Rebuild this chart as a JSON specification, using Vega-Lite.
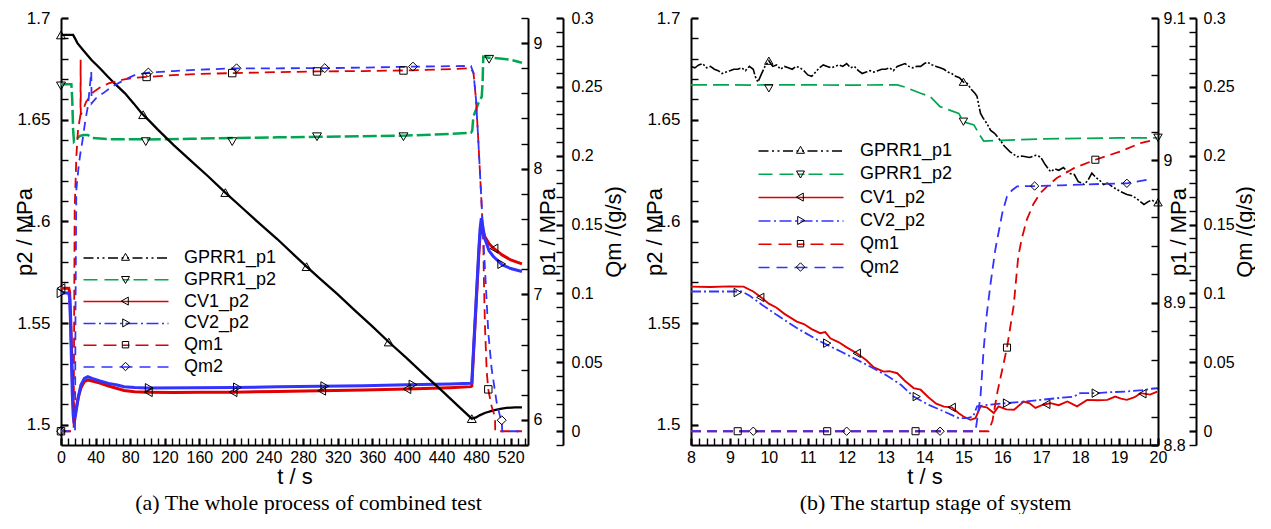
{
"$schema":"https://vega.github.io/schema/vega-lite/v6.json",
"background":"white",
"padding":{"left":13,"top":9,"right":0,"bottom":0},
"spacing":19,
"config":{"view":{"stroke":null},"font":"Liberation Sans",
"axis":{"grid":false,"domainColor":"black","domainWidth":2,"tickColor":"black","tickSize":-7,"labelColor":"black","labelFont":"Liberation Sans","labelFontSize":16,"titleFont":"Liberation Sans","titleFontSize":22,"titleFontWeight":"normal","titleColor":"black","labelFlush":false,"labelOverlap":false}},
"datasets":{
"a_lines":[
{"series":"GPRR1_p1","t":0,"v":9.065},{"series":"GPRR1_p1","t":14,"v":9.065},{"series":"GPRR1_p1","t":16,"v":9.04},{"series":"GPRR1_p1","t":19,"v":9.0},{"series":"GPRR1_p1","t":25,"v":8.95},{"series":"GPRR1_p1","t":35,"v":8.867},{"series":"GPRR1_p1","t":45,"v":8.8},{"series":"GPRR1_p1","t":54,"v":8.734},{"series":"GPRR1_p1","t":64,"v":8.665},{"series":"GPRR1_p1","t":74,"v":8.6},{"series":"GPRR1_p1","t":84,"v":8.52},{"series":"GPRR1_p1","t":93,"v":8.443},{"series":"GPRR1_p1","t":103,"v":8.375},{"series":"GPRR1_p1","t":112,"v":8.311},{"series":"GPRR1_p1","t":130,"v":8.19},{"series":"GPRR1_p1","t":150,"v":8.065},{"series":"GPRR1_p1","t":170,"v":7.94},{"series":"GPRR1_p1","t":190,"v":7.81},{"series":"GPRR1_p1","t":210,"v":7.685},{"series":"GPRR1_p1","t":230,"v":7.56},{"series":"GPRR1_p1","t":250,"v":7.44},{"series":"GPRR1_p1","t":270,"v":7.31},{"series":"GPRR1_p1","t":284,"v":7.22},{"series":"GPRR1_p1","t":300,"v":7.12},{"series":"GPRR1_p1","t":320,"v":7.0},{"series":"GPRR1_p1","t":340,"v":6.87},{"series":"GPRR1_p1","t":360,"v":6.745},{"series":"GPRR1_p1","t":379,"v":6.62},{"series":"GPRR1_p1","t":400,"v":6.49},{"series":"GPRR1_p1","t":420,"v":6.36},{"series":"GPRR1_p1","t":440,"v":6.235},{"series":"GPRR1_p1","t":460,"v":6.105},{"series":"GPRR1_p1","t":475,"v":6.01},{"series":"GPRR1_p1","t":480,"v":6.02},{"series":"GPRR1_p1","t":484,"v":6.036},{"series":"GPRR1_p1","t":490,"v":6.055},{"series":"GPRR1_p1","t":500,"v":6.076},{"series":"GPRR1_p1","t":508,"v":6.088},{"series":"GPRR1_p1","t":515,"v":6.095},{"series":"GPRR1_p1","t":525,"v":6.1},{"series":"GPRR1_p1","t":533,"v":6.1},
{"series":"GPRR1_p2","t":0,"v":1.6674},{"series":"GPRR1_p2","t":12,"v":1.6674},{"series":"GPRR1_p2","t":13,"v":1.66},{"series":"GPRR1_p2","t":14,"v":1.645},{"series":"GPRR1_p2","t":15,"v":1.6392},{"series":"GPRR1_p2","t":18,"v":1.6405},{"series":"GPRR1_p2","t":22,"v":1.642},{"series":"GPRR1_p2","t":26,"v":1.6425},{"series":"GPRR1_p2","t":31,"v":1.6425},{"series":"GPRR1_p2","t":36,"v":1.641},{"series":"GPRR1_p2","t":54,"v":1.6404},{"series":"GPRR1_p2","t":100,"v":1.6403},{"series":"GPRR1_p2","t":150,"v":1.6406},{"series":"GPRR1_p2","t":200,"v":1.641},{"series":"GPRR1_p2","t":250,"v":1.6413},{"series":"GPRR1_p2","t":300,"v":1.6416},{"series":"GPRR1_p2","t":350,"v":1.6419},{"series":"GPRR1_p2","t":400,"v":1.6422},{"series":"GPRR1_p2","t":450,"v":1.643},{"series":"GPRR1_p2","t":474,"v":1.6436},{"series":"GPRR1_p2","t":475.5,"v":1.6445},{"series":"GPRR1_p2","t":476.8,"v":1.6515},{"series":"GPRR1_p2","t":480,"v":1.655},{"series":"GPRR1_p2","t":482.5,"v":1.658},{"series":"GPRR1_p2","t":486.5,"v":1.6613},{"series":"GPRR1_p2","t":487.5,"v":1.668},{"series":"GPRR1_p2","t":488.3,"v":1.681},{"series":"GPRR1_p2","t":495,"v":1.6805},{"series":"GPRR1_p2","t":510,"v":1.68},{"series":"GPRR1_p2","t":520,"v":1.6795},{"series":"GPRR1_p2","t":533,"v":1.678},
{"series":"CV1_p2","t":0,"v":1.5671},{"series":"CV1_p2","t":9,"v":1.5671},{"series":"CV1_p2","t":10,"v":1.565},{"series":"CV1_p2","t":11,"v":1.555},{"series":"CV1_p2","t":12,"v":1.54},{"series":"CV1_p2","t":13,"v":1.525},{"series":"CV1_p2","t":14,"v":1.511},{"series":"CV1_p2","t":15,"v":1.5035},{"series":"CV1_p2","t":16,"v":1.5045},{"series":"CV1_p2","t":18,"v":1.509},{"series":"CV1_p2","t":20,"v":1.5135},{"series":"CV1_p2","t":23,"v":1.518},{"series":"CV1_p2","t":27,"v":1.5212},{"series":"CV1_p2","t":31,"v":1.522},{"series":"CV1_p2","t":36,"v":1.5215},{"series":"CV1_p2","t":45,"v":1.5205},{"series":"CV1_p2","t":55,"v":1.519},{"series":"CV1_p2","t":65,"v":1.5178},{"series":"CV1_p2","t":73,"v":1.5168},{"series":"CV1_p2","t":85,"v":1.5162},{"series":"CV1_p2","t":100,"v":1.516},{"series":"CV1_p2","t":130,"v":1.5158},{"series":"CV1_p2","t":160,"v":1.5159},{"series":"CV1_p2","t":200,"v":1.516},{"series":"CV1_p2","t":250,"v":1.5163},{"series":"CV1_p2","t":300,"v":1.5167},{"series":"CV1_p2","t":350,"v":1.517},{"series":"CV1_p2","t":400,"v":1.5175},{"series":"CV1_p2","t":450,"v":1.5182},{"series":"CV1_p2","t":474,"v":1.5187},{"series":"CV1_p2","t":475,"v":1.519},{"series":"CV1_p2","t":477,"v":1.535},{"series":"CV1_p2","t":479,"v":1.551},{"series":"CV1_p2","t":481,"v":1.567},{"series":"CV1_p2","t":483,"v":1.583},{"series":"CV1_p2","t":484.5,"v":1.593},{"series":"CV1_p2","t":486.5,"v":1.597},{"series":"CV1_p2","t":488,"v":1.595},{"series":"CV1_p2","t":490,"v":1.5925},{"series":"CV1_p2","t":495,"v":1.589},{"series":"CV1_p2","t":500,"v":1.5868},{"series":"CV1_p2","t":510,"v":1.5835},{"series":"CV1_p2","t":520,"v":1.581},{"series":"CV1_p2","t":533,"v":1.5791},
{"series":"CV2_p2","t":0,"v":1.5647},{"series":"CV2_p2","t":9,"v":1.5647},{"series":"CV2_p2","t":10,"v":1.562},{"series":"CV2_p2","t":11,"v":1.55},{"series":"CV2_p2","t":12,"v":1.533},{"series":"CV2_p2","t":13,"v":1.516},{"series":"CV2_p2","t":14,"v":1.505},{"series":"CV2_p2","t":15,"v":1.5007},{"series":"CV2_p2","t":16,"v":1.5025},{"series":"CV2_p2","t":18,"v":1.508},{"series":"CV2_p2","t":20,"v":1.5135},{"series":"CV2_p2","t":23,"v":1.5195},{"series":"CV2_p2","t":27,"v":1.5228},{"series":"CV2_p2","t":31,"v":1.5236},{"series":"CV2_p2","t":36,"v":1.5228},{"series":"CV2_p2","t":45,"v":1.5215},{"series":"CV2_p2","t":55,"v":1.5203},{"series":"CV2_p2","t":65,"v":1.5195},{"series":"CV2_p2","t":73,"v":1.5187},{"series":"CV2_p2","t":85,"v":1.5183},{"series":"CV2_p2","t":100,"v":1.518},{"series":"CV2_p2","t":150,"v":1.5182},{"series":"CV2_p2","t":200,"v":1.5183},{"series":"CV2_p2","t":250,"v":1.5186},{"series":"CV2_p2","t":300,"v":1.5189},{"series":"CV2_p2","t":350,"v":1.5192},{"series":"CV2_p2","t":400,"v":1.5196},{"series":"CV2_p2","t":450,"v":1.52},{"series":"CV2_p2","t":474,"v":1.5204},{"series":"CV2_p2","t":475,"v":1.5206},{"series":"CV2_p2","t":477,"v":1.537},{"series":"CV2_p2","t":479,"v":1.553},{"series":"CV2_p2","t":481,"v":1.569},{"series":"CV2_p2","t":483,"v":1.585},{"series":"CV2_p2","t":484.5,"v":1.596},{"series":"CV2_p2","t":486,"v":1.6015},{"series":"CV2_p2","t":488,"v":1.597},{"series":"CV2_p2","t":490,"v":1.5915},{"series":"CV2_p2","t":495,"v":1.5855},{"series":"CV2_p2","t":500,"v":1.5827},{"series":"CV2_p2","t":510,"v":1.5786},{"series":"CV2_p2","t":520,"v":1.5768},{"series":"CV2_p2","t":533,"v":1.5753},
{"series":"Qm1","t":0,"v":0},{"series":"Qm1","t":14.6,"v":0},{"series":"Qm1","t":15.2,"v":0.08},{"series":"Qm1","t":15.8,"v":0.161},{"series":"Qm1","t":17.8,"v":0.2},{"series":"Qm1","t":19.7,"v":0.219},{"series":"Qm1","t":22.5,"v":0.2297},{"series":"Qm1","t":22.7,"v":0.2696},{"series":"Qm1","t":22.9,"v":0.2297},{"series":"Qm1","t":26,"v":0.234},{"series":"Qm1","t":29,"v":0.239},{"series":"Qm1","t":33,"v":0.2425},{"series":"Qm1","t":37,"v":0.246},{"series":"Qm1","t":45,"v":0.2495},{"series":"Qm1","t":55,"v":0.2525},{"series":"Qm1","t":64,"v":0.254},{"series":"Qm1","t":73,"v":0.2555},{"series":"Qm1","t":85,"v":0.2565},{"series":"Qm1","t":99,"v":0.2572},{"series":"Qm1","t":130,"v":0.2585},{"series":"Qm1","t":160,"v":0.2594},{"series":"Qm1","t":198,"v":0.26},{"series":"Qm1","t":250,"v":0.2607},{"series":"Qm1","t":296,"v":0.2612},{"series":"Qm1","t":350,"v":0.2615},{"series":"Qm1","t":396,"v":0.2619},{"series":"Qm1","t":440,"v":0.2627},{"series":"Qm1","t":474,"v":0.2635},{"series":"Qm1","t":477,"v":0.26},{"series":"Qm1","t":480,"v":0.24},{"series":"Qm1","t":482.5,"v":0.2116},{"series":"Qm1","t":486.5,"v":0.163},{"series":"Qm1","t":488.3,"v":0.139},{"series":"Qm1","t":489,"v":0.11},{"series":"Qm1","t":490.3,"v":0.075},{"series":"Qm1","t":492.3,"v":0.043},{"series":"Qm1","t":494.1,"v":0.0304},{"series":"Qm1","t":496,"v":0.024},{"series":"Qm1","t":498,"v":0.018},{"series":"Qm1","t":501.9,"v":0.01},{"series":"Qm1","t":502.1,"v":0},{"series":"Qm1","t":533,"v":0},
{"series":"Qm2","t":0,"v":0},{"series":"Qm2","t":16.2,"v":0},{"series":"Qm2","t":16.8,"v":0.09},{"series":"Qm2","t":17.7,"v":0.175},{"series":"Qm2","t":20,"v":0.19},{"series":"Qm2","t":22,"v":0.2},{"series":"Qm2","t":25,"v":0.2116},{"series":"Qm2","t":28,"v":0.225},{"series":"Qm2","t":31,"v":0.2357},{"series":"Qm2","t":33,"v":0.248},{"series":"Qm2","t":35,"v":0.2611},{"series":"Qm2","t":35.4,"v":0.238},{"series":"Qm2","t":40,"v":0.2415},{"series":"Qm2","t":50,"v":0.246},{"series":"Qm2","t":60,"v":0.2505},{"series":"Qm2","t":73,"v":0.255},{"series":"Qm2","t":85,"v":0.2585},{"series":"Qm2","t":101,"v":0.2604},{"series":"Qm2","t":130,"v":0.2615},{"series":"Qm2","t":160,"v":0.2625},{"series":"Qm2","t":203,"v":0.2635},{"series":"Qm2","t":250,"v":0.2635},{"series":"Qm2","t":305,"v":0.2636},{"series":"Qm2","t":350,"v":0.264},{"series":"Qm2","t":407,"v":0.2647},{"series":"Qm2","t":450,"v":0.265},{"series":"Qm2","t":474,"v":0.2652},{"series":"Qm2","t":477,"v":0.26},{"series":"Qm2","t":480,"v":0.24},{"series":"Qm2","t":482.5,"v":0.2116},{"series":"Qm2","t":486.5,"v":0.163},{"series":"Qm2","t":488.3,"v":0.139},{"series":"Qm2","t":490.3,"v":0.1174},{"series":"Qm2","t":494.1,"v":0.0715},{"series":"Qm2","t":498,"v":0.045},{"series":"Qm2","t":503.8,"v":0.0208},{"series":"Qm2","t":507.6,"v":0.011},{"series":"Qm2","t":509.6,"v":0.008},{"series":"Qm2","t":510.2,"v":0},{"series":"Qm2","t":533,"v":0}
],
"a_marks":[
{"series":"GPRR1_p1","t":0,"v":9.065},{"series":"GPRR1_p1","t":95,"v":8.43},{"series":"GPRR1_p1","t":190,"v":7.81},{"series":"GPRR1_p1","t":284,"v":7.22},{"series":"GPRR1_p1","t":379,"v":6.62},{"series":"GPRR1_p1","t":475,"v":6.01},
{"series":"GPRR1_p2","t":0,"v":1.6666},{"series":"GPRR1_p2","t":98,"v":1.6392},{"series":"GPRR1_p2","t":198,"v":1.6392},{"series":"GPRR1_p2","t":296,"v":1.6416},{"series":"GPRR1_p2","t":396,"v":1.6416},{"series":"GPRR1_p2","t":495,"v":1.6797},
{"series":"CV1_p2","t":0,"v":1.5671},{"series":"CV1_p2","t":101,"v":1.516},{"series":"CV1_p2","t":199,"v":1.516},{"series":"CV1_p2","t":301.5,"v":1.5167},{"series":"CV1_p2","t":400,"v":1.5175},{"series":"CV1_p2","t":500.7,"v":1.5866},
{"series":"CV2_p2","t":0,"v":1.5647},{"series":"CV2_p2","t":102,"v":1.518},{"series":"CV2_p2","t":204,"v":1.5183},{"series":"CV2_p2","t":305,"v":1.5189},{"series":"CV2_p2","t":407,"v":1.5197},{"series":"CV2_p2","t":509.6,"v":1.579},
{"series":"Qm1","t":0,"v":0},{"series":"Qm1","t":99,"v":0.2572},{"series":"Qm1","t":198,"v":0.26},{"series":"Qm1","t":296,"v":0.2612},{"series":"Qm1","t":396,"v":0.2619},{"series":"Qm1","t":494.1,"v":0.0304},
{"series":"Qm2","t":0,"v":0},{"series":"Qm2","t":101,"v":0.2604},{"series":"Qm2","t":203,"v":0.2635},{"series":"Qm2","t":305,"v":0.2636},{"series":"Qm2","t":407,"v":0.2647},{"series":"Qm2","t":509.6,"v":0.008}
],
"b_lines":[
{"series":"GPRR1_p1","t":8,"v":9.066},{"series":"GPRR1_p1","t":8.1,"v":9.065},{"series":"GPRR1_p1","t":8.2,"v":9.067},{"series":"GPRR1_p1","t":8.3,"v":9.068},{"series":"GPRR1_p1","t":8.4,"v":9.065},{"series":"GPRR1_p1","t":8.5,"v":9.066},{"series":"GPRR1_p1","t":8.6,"v":9.064},{"series":"GPRR1_p1","t":8.7,"v":9.063},{"series":"GPRR1_p1","t":8.8,"v":9.061},{"series":"GPRR1_p1","t":8.9,"v":9.062},{"series":"GPRR1_p1","t":9,"v":9.063},{"series":"GPRR1_p1","t":9.1,"v":9.064},{"series":"GPRR1_p1","t":9.2,"v":9.064},{"series":"GPRR1_p1","t":9.3,"v":9.065},{"series":"GPRR1_p1","t":9.4,"v":9.063},{"series":"GPRR1_p1","t":9.5,"v":9.066},{"series":"GPRR1_p1","t":9.6,"v":9.064},{"series":"GPRR1_p1","t":9.65,"v":9.059},{"series":"GPRR1_p1","t":9.72,"v":9.055},{"series":"GPRR1_p1","t":9.8,"v":9.06},{"series":"GPRR1_p1","t":9.9,"v":9.066},{"series":"GPRR1_p1","t":10,"v":9.07},{"series":"GPRR1_p1","t":10.1,"v":9.066},{"series":"GPRR1_p1","t":10.2,"v":9.067},{"series":"GPRR1_p1","t":10.3,"v":9.064},{"series":"GPRR1_p1","t":10.4,"v":9.066},{"series":"GPRR1_p1","t":10.5,"v":9.065},{"series":"GPRR1_p1","t":10.6,"v":9.064},{"series":"GPRR1_p1","t":10.7,"v":9.066},{"series":"GPRR1_p1","t":10.8,"v":9.065},{"series":"GPRR1_p1","t":10.9,"v":9.063},{"series":"GPRR1_p1","t":11,"v":9.06},{"series":"GPRR1_p1","t":11.1,"v":9.059},{"series":"GPRR1_p1","t":11.2,"v":9.062},{"series":"GPRR1_p1","t":11.3,"v":9.065},{"series":"GPRR1_p1","t":11.4,"v":9.067},{"series":"GPRR1_p1","t":11.5,"v":9.066},{"series":"GPRR1_p1","t":11.6,"v":9.065},{"series":"GPRR1_p1","t":11.7,"v":9.066},{"series":"GPRR1_p1","t":11.8,"v":9.067},{"series":"GPRR1_p1","t":11.9,"v":9.066},{"series":"GPRR1_p1","t":12,"v":9.068},{"series":"GPRR1_p1","t":12.1,"v":9.065},{"series":"GPRR1_p1","t":12.2,"v":9.066},{"series":"GPRR1_p1","t":12.3,"v":9.063},{"series":"GPRR1_p1","t":12.4,"v":9.061},{"series":"GPRR1_p1","t":12.5,"v":9.062},{"series":"GPRR1_p1","t":12.6,"v":9.063},{"series":"GPRR1_p1","t":12.7,"v":9.062},{"series":"GPRR1_p1","t":12.8,"v":9.063},{"series":"GPRR1_p1","t":12.9,"v":9.064},{"series":"GPRR1_p1","t":13,"v":9.064},{"series":"GPRR1_p1","t":13.1,"v":9.065},{"series":"GPRR1_p1","t":13.2,"v":9.063},{"series":"GPRR1_p1","t":13.3,"v":9.066},{"series":"GPRR1_p1","t":13.4,"v":9.067},{"series":"GPRR1_p1","t":13.5,"v":9.068},{"series":"GPRR1_p1","t":13.6,"v":9.066},{"series":"GPRR1_p1","t":13.7,"v":9.065},{"series":"GPRR1_p1","t":13.8,"v":9.066},{"series":"GPRR1_p1","t":13.9,"v":9.066},{"series":"GPRR1_p1","t":14,"v":9.068},{"series":"GPRR1_p1","t":14.07,"v":9.069},{"series":"GPRR1_p1","t":14.2,"v":9.067},{"series":"GPRR1_p1","t":14.3,"v":9.066},{"series":"GPRR1_p1","t":14.4,"v":9.065},{"series":"GPRR1_p1","t":14.5,"v":9.064},{"series":"GPRR1_p1","t":14.6,"v":9.062},{"series":"GPRR1_p1","t":14.7,"v":9.061},{"series":"GPRR1_p1","t":14.8,"v":9.059},{"series":"GPRR1_p1","t":14.9,"v":9.058},{"series":"GPRR1_p1","t":15,"v":9.055},{"series":"GPRR1_p1","t":15.1,"v":9.054},{"series":"GPRR1_p1","t":15.2,"v":9.05},{"series":"GPRR1_p1","t":15.3,"v":9.047},{"series":"GPRR1_p1","t":15.35,"v":9.045},{"series":"GPRR1_p1","t":15.4,"v":9.038},{"series":"GPRR1_p1","t":15.44,"v":9.033},{"series":"GPRR1_p1","t":15.5,"v":9.03},{"series":"GPRR1_p1","t":15.6,"v":9.026},{"series":"GPRR1_p1","t":15.7,"v":9.021},{"series":"GPRR1_p1","t":15.8,"v":9.019},{"series":"GPRR1_p1","t":15.95,"v":9.014},{"series":"GPRR1_p1","t":16.05,"v":9.01},{"series":"GPRR1_p1","t":16.2,"v":9.006},{"series":"GPRR1_p1","t":16.38,"v":9.0025},{"series":"GPRR1_p1","t":16.5,"v":9.003},{"series":"GPRR1_p1","t":16.7,"v":9.002},{"series":"GPRR1_p1","t":16.85,"v":9.0035},{"series":"GPRR1_p1","t":16.98,"v":9.0025},{"series":"GPRR1_p1","t":17.1,"v":8.997},{"series":"GPRR1_p1","t":17.24,"v":8.992},{"series":"GPRR1_p1","t":17.35,"v":8.994},{"series":"GPRR1_p1","t":17.45,"v":8.993},{"series":"GPRR1_p1","t":17.57,"v":8.995},{"series":"GPRR1_p1","t":17.7,"v":8.991},{"series":"GPRR1_p1","t":17.85,"v":8.99},{"series":"GPRR1_p1","t":17.95,"v":8.985},{"series":"GPRR1_p1","t":18.05,"v":8.984},{"series":"GPRR1_p1","t":18.1,"v":8.983},{"series":"GPRR1_p1","t":18.2,"v":8.986},{"series":"GPRR1_p1","t":18.3,"v":8.991},{"series":"GPRR1_p1","t":18.4,"v":8.988},{"series":"GPRR1_p1","t":18.5,"v":8.986},{"series":"GPRR1_p1","t":18.6,"v":8.983},{"series":"GPRR1_p1","t":18.7,"v":8.984},{"series":"GPRR1_p1","t":18.85,"v":8.981},{"series":"GPRR1_p1","t":19.04,"v":8.978},{"series":"GPRR1_p1","t":19.2,"v":8.976},{"series":"GPRR1_p1","t":19.35,"v":8.975},{"series":"GPRR1_p1","t":19.5,"v":8.972},{"series":"GPRR1_p1","t":19.64,"v":8.969},{"series":"GPRR1_p1","t":19.75,"v":8.971},{"series":"GPRR1_p1","t":19.85,"v":8.972},{"series":"GPRR1_p1","t":19.95,"v":8.97},{"series":"GPRR1_p1","t":20,"v":8.9705},
{"series":"GPRR1_p2","t":8,"v":1.6671},{"series":"GPRR1_p2","t":9,"v":1.6671},{"series":"GPRR1_p2","t":9.5,"v":1.667},{"series":"GPRR1_p2","t":10,"v":1.6671},{"series":"GPRR1_p2","t":11,"v":1.6671},{"series":"GPRR1_p2","t":12,"v":1.667},{"series":"GPRR1_p2","t":13.3,"v":1.6671},{"series":"GPRR1_p2","t":13.5,"v":1.666},{"series":"GPRR1_p2","t":13.7,"v":1.6645},{"series":"GPRR1_p2","t":13.9,"v":1.663},{"series":"GPRR1_p2","t":14.15,"v":1.6613},{"series":"GPRR1_p2","t":14.4,"v":1.6564},{"series":"GPRR1_p2","t":14.6,"v":1.655},{"series":"GPRR1_p2","t":14.88,"v":1.6531},{"series":"GPRR1_p2","t":15,"v":1.649},{"series":"GPRR1_p2","t":15.27,"v":1.6474},{"series":"GPRR1_p2","t":15.4,"v":1.643},{"series":"GPRR1_p2","t":15.52,"v":1.6395},{"series":"GPRR1_p2","t":16,"v":1.6398},{"series":"GPRR1_p2","t":17,"v":1.6405},{"series":"GPRR1_p2","t":18,"v":1.6408},{"series":"GPRR1_p2","t":19,"v":1.641},{"series":"GPRR1_p2","t":20,"v":1.6411},
{"series":"CV1_p2","t":8,"v":1.5679},{"series":"CV1_p2","t":8.5,"v":1.5677},{"series":"CV1_p2","t":9,"v":1.568},{"series":"CV1_p2","t":9.35,"v":1.5679},{"series":"CV1_p2","t":9.6,"v":1.5655},{"series":"CV1_p2","t":9.83,"v":1.5622},{"series":"CV1_p2","t":10,"v":1.5595},{"series":"CV1_p2","t":10.2,"v":1.5575},{"series":"CV1_p2","t":10.4,"v":1.5545},{"series":"CV1_p2","t":10.72,"v":1.5507},{"series":"CV1_p2","t":10.9,"v":1.5495},{"series":"CV1_p2","t":11.1,"v":1.547},{"series":"CV1_p2","t":11.32,"v":1.545},{"series":"CV1_p2","t":11.45,"v":1.5455},{"series":"CV1_p2","t":11.58,"v":1.5425},{"series":"CV1_p2","t":11.8,"v":1.5405},{"series":"CV1_p2","t":12,"v":1.538},{"series":"CV1_p2","t":12.26,"v":1.5351},{"series":"CV1_p2","t":12.5,"v":1.5318},{"series":"CV1_p2","t":12.7,"v":1.5282},{"series":"CV1_p2","t":12.95,"v":1.5261},{"series":"CV1_p2","t":13.1,"v":1.5263},{"series":"CV1_p2","t":13.3,"v":1.5253},{"series":"CV1_p2","t":13.5,"v":1.5215},{"series":"CV1_p2","t":13.72,"v":1.518},{"series":"CV1_p2","t":13.9,"v":1.5172},{"series":"CV1_p2","t":14.1,"v":1.5135},{"series":"CV1_p2","t":14.3,"v":1.5103},{"series":"CV1_p2","t":14.5,"v":1.5089},{"series":"CV1_p2","t":14.7,"v":1.5085},{"series":"CV1_p2","t":14.88,"v":1.5056},{"series":"CV1_p2","t":15,"v":1.504},{"series":"CV1_p2","t":15.18,"v":1.5024},{"series":"CV1_p2","t":15.31,"v":1.5032},{"series":"CV1_p2","t":15.44,"v":1.509},{"series":"CV1_p2","t":15.6,"v":1.5085},{"series":"CV1_p2","t":15.78,"v":1.5057},{"series":"CV1_p2","t":15.9,"v":1.509},{"series":"CV1_p2","t":16.1,"v":1.5075},{"series":"CV1_p2","t":16.3,"v":1.5073},{"series":"CV1_p2","t":16.55,"v":1.5114},{"series":"CV1_p2","t":16.7,"v":1.5105},{"series":"CV1_p2","t":16.85,"v":1.5082},{"series":"CV1_p2","t":17.05,"v":1.5098},{"series":"CV1_p2","t":17.24,"v":1.5106},{"series":"CV1_p2","t":17.45,"v":1.5096},{"series":"CV1_p2","t":17.67,"v":1.5114},{"series":"CV1_p2","t":17.92,"v":1.509},{"series":"CV1_p2","t":18.18,"v":1.5122},{"series":"CV1_p2","t":18.45,"v":1.512},{"series":"CV1_p2","t":18.7,"v":1.5122},{"series":"CV1_p2","t":18.9,"v":1.5138},{"series":"CV1_p2","t":19.05,"v":1.5128},{"series":"CV1_p2","t":19.2,"v":1.5122},{"series":"CV1_p2","t":19.4,"v":1.5135},{"series":"CV1_p2","t":19.55,"v":1.5155},{"series":"CV1_p2","t":19.8,"v":1.5148},{"series":"CV1_p2","t":19.98,"v":1.5163},
{"series":"CV2_p2","t":8,"v":1.5655},{"series":"CV2_p2","t":9.3,"v":1.5655},{"series":"CV2_p2","t":9.5,"v":1.5635},{"series":"CV2_p2","t":9.83,"v":1.5589},{"series":"CV2_p2","t":10.2,"v":1.554},{"series":"CV2_p2","t":10.72,"v":1.5475},{"series":"CV2_p2","t":11.32,"v":1.5409},{"series":"CV2_p2","t":11.9,"v":1.5355},{"series":"CV2_p2","t":12.44,"v":1.5302},{"series":"CV2_p2","t":13,"v":1.5245},{"series":"CV2_p2","t":13.4,"v":1.5195},{"series":"CV2_p2","t":13.72,"v":1.5138},{"series":"CV2_p2","t":14.1,"v":1.5098},{"series":"CV2_p2","t":14.5,"v":1.5065},{"series":"CV2_p2","t":14.88,"v":1.5032},{"series":"CV2_p2","t":15.1,"v":1.5032},{"series":"CV2_p2","t":15.25,"v":1.504},{"series":"CV2_p2","t":15.35,"v":1.509},{"series":"CV2_p2","t":15.61,"v":1.5097},{"series":"CV2_p2","t":16.12,"v":1.5106},{"series":"CV2_p2","t":16.5,"v":1.5112},{"series":"CV2_p2","t":16.98,"v":1.5122},{"series":"CV2_p2","t":17.4,"v":1.513},{"series":"CV2_p2","t":17.84,"v":1.5138},{"series":"CV2_p2","t":18,"v":1.5155},{"series":"CV2_p2","t":18.4,"v":1.5155},{"series":"CV2_p2","t":18.8,"v":1.516},{"series":"CV2_p2","t":19.2,"v":1.5163},{"series":"CV2_p2","t":19.6,"v":1.517},{"series":"CV2_p2","t":19.98,"v":1.518},
{"series":"Qm1","t":8,"v":0},{"series":"Qm1","t":15.65,"v":0},{"series":"Qm1","t":15.75,"v":0.008},{"series":"Qm1","t":15.87,"v":0.028},{"series":"Qm1","t":16,"v":0.045},{"series":"Qm1","t":16.12,"v":0.0607},{"series":"Qm1","t":16.29,"v":0.0908},{"series":"Qm1","t":16.41,"v":0.127},{"series":"Qm1","t":16.5,"v":0.14},{"series":"Qm1","t":16.63,"v":0.1536},{"series":"Qm1","t":16.8,"v":0.165},{"series":"Qm1","t":16.98,"v":0.173},{"series":"Qm1","t":17.2,"v":0.179},{"series":"Qm1","t":17.4,"v":0.1838},{"series":"Qm1","t":17.84,"v":0.191},{"series":"Qm1","t":18.39,"v":0.1971},{"series":"Qm1","t":19.03,"v":0.2031},{"series":"Qm1","t":19.55,"v":0.2092},{"series":"Qm1","t":19.9,"v":0.2116},{"series":"Qm1","t":19.95,"v":0.212},
{"series":"Qm2","t":8,"v":0},{"series":"Qm2","t":15.31,"v":0},{"series":"Qm2","t":15.44,"v":0.0256},{"series":"Qm2","t":15.52,"v":0.0594},{"series":"Qm2","t":15.6,"v":0.085},{"series":"Qm2","t":15.7,"v":0.1077},{"series":"Qm2","t":15.82,"v":0.1319},{"series":"Qm2","t":16,"v":0.1585},{"series":"Qm2","t":16.12,"v":0.1705},{"series":"Qm2","t":16.25,"v":0.175},{"series":"Qm2","t":16.38,"v":0.1778},{"series":"Qm2","t":16.83,"v":0.178},{"series":"Qm2","t":17.5,"v":0.1785},{"series":"Qm2","t":18,"v":0.179},{"series":"Qm2","t":18.5,"v":0.1795},{"series":"Qm2","t":19.2,"v":0.18},{"series":"Qm2","t":19.72,"v":0.1826}
],
"b_marks":[
{"series":"GPRR1_p1","t":10,"v":9.07},{"series":"GPRR1_p1","t":15,"v":9.0552},{"series":"GPRR1_p1","t":20,"v":8.9705},
{"series":"GPRR1_p2","t":10,"v":1.6654},{"series":"GPRR1_p2","t":15,"v":1.649},{"series":"GPRR1_p2","t":20,"v":1.6411},
{"series":"CV1_p2","t":9.78,"v":1.5626},{"series":"CV1_p2","t":12.26,"v":1.5351},{"series":"CV1_p2","t":14.7,"v":1.5085},{"series":"CV1_p2","t":17.13,"v":1.51},{"series":"CV1_p2","t":19.6,"v":1.5152},
{"series":"CV2_p2","t":9.2,"v":1.565},{"series":"CV2_p2","t":11.5,"v":1.5401},{"series":"CV2_p2","t":13.8,"v":1.5138},{"series":"CV2_p2","t":16.12,"v":1.5106},{"series":"CV2_p2","t":18.4,"v":1.5155},
{"series":"Qm1","t":9.2,"v":0},{"series":"Qm1","t":11.5,"v":0},{"series":"Qm1","t":13.77,"v":0},{"series":"Qm1","t":16.12,"v":0.0607},{"series":"Qm1","t":18.39,"v":0.1971},
{"series":"Qm2","t":9.6,"v":0},{"series":"Qm2","t":12,"v":0},{"series":"Qm2","t":14.4,"v":0},{"series":"Qm2","t":16.83,"v":0.178},{"series":"Qm2","t":19.2,"v":0.18}
]
},
"hconcat":[
{
"width":467,"height":427,
"title":{"text":"(a) The whole process of combined test","orient":"bottom","anchor":"middle","frame":"group","font":"Liberation Serif","fontSize":22,"fontWeight":"normal","color":"black","dx":14,"offset":6},
"encoding":{"x":{"field":"t","type":"quantitative","scale":{"domain":[0,540],"nice":false,"zero":false},
"axis":{"title":"t / s","values":[0,8,16,24,32,40,48,56,64,72,80,88,96,104,112,120,128,136,144,152,160,168,176,184,192,200,208,216,224,232,240,248,256,264,272,280,288,296,304,312,320,328,336,344,352,360,368,376,384,392,400,408,416,424,432,440,448,456,464,472,480,488,496,504,512,520,528,536],
"labelExpr":"datum.value % 40 == 0 ? datum.label : ''",
"tickSize":-7,
"tickWidth":{"condition":{"test":"datum.value % 40 == 0","value":2.2},"value":1.4},
"labelPadding":11,"titlePadding":1}}},
"layer":[
{"encoding":{"y":{"field":"v","type":"quantitative","scale":{"domain":[1.49,1.7],"nice":false,"zero":false},
"axis":{"orient":"left","title":"p2 / MPa","values":[1.5,1.51,1.52,1.53,1.54,1.55,1.56,1.57,1.58,1.59,1.6,1.61,1.62,1.63,1.64,1.65,1.66,1.67,1.68,1.69,1.7],"format":"~g",
"labelExpr":"abs(datum.value*20-round(datum.value*20))<0.001 ? datum.label : ''",
"tickSize":-7,
"tickWidth":{"condition":{"test":"abs(datum.value*20-round(datum.value*20))<0.001","value":2.2},"value":1.4},
"labelPadding":18,"labelFontSize":17,"titleAngle":270,"titleX":-37,"titleY":213.5,"titleAlign":"center","titleBaseline":"middle"}}},
"layer":[
{"data":{"name":"a_lines"},"transform":[{"filter":"datum.series==='GPRR1_p2'"}],"mark":{"type":"line","color":"#00A651","strokeWidth":2.5,"strokeDash":[14,4]}},
{"data":{"name":"a_lines"},"transform":[{"filter":"datum.series==='CV1_p2'"}],"mark":{"type":"line","color":"#E00000","strokeWidth":3}},
{"data":{"name":"a_lines"},"transform":[{"filter":"datum.series==='CV2_p2'"}],"mark":{"type":"line","color":"#3333FF","strokeWidth":3}},
{"data":{"name":"a_marks"},"transform":[{"filter":"datum.series==='GPRR1_p2'"}],"mark":{"type":"point","shape":"triangle-down","filled":false,"color":"black","strokeWidth":1,"size":80,"opacity":1}},
{"data":{"name":"a_marks"},"transform":[{"filter":"datum.series==='CV1_p2'"}],"mark":{"type":"point","shape":"triangle-left","filled":false,"color":"black","strokeWidth":1,"size":80,"opacity":1}},
{"data":{"name":"a_marks"},"transform":[{"filter":"datum.series==='CV2_p2'"}],"mark":{"type":"point","shape":"triangle-right","filled":false,"color":"black","strokeWidth":1,"size":80,"opacity":1}}
]},
{"encoding":{"y":{"field":"v","type":"quantitative","scale":{"domain":[5.8,9.2],"nice":false,"zero":false},
"axis":{"orient":"right","title":"p1 / MPa","values":[5.8,6,6.2,6.4,6.6,6.8,7,7.2,7.4,7.6,7.8,8,8.2,8.4,8.6,8.8,9,9.2],"format":"~g",
"labelExpr":"abs(datum.value-round(datum.value))<0.001 ? datum.label : ''",
"tickSize":-7,
"tickWidth":{"condition":{"test":"abs(datum.value-round(datum.value))<0.001","value":2.2},"value":1.4},
"labelPadding":12,"titleAngle":270,"titleX":19,"titleY":213.5,"titleAlign":"center","titleBaseline":"middle"}}},
"layer":[
{"data":{"name":"a_lines"},"transform":[{"filter":"datum.series==='GPRR1_p1'"}],"mark":{"type":"line","color":"black","strokeWidth":2.3}},
{"data":{"name":"a_marks"},"transform":[{"filter":"datum.series==='GPRR1_p1'"}],"mark":{"type":"point","shape":"triangle-up","filled":false,"color":"black","strokeWidth":1,"size":80,"opacity":1}}
]},
{"encoding":{"y":{"field":"v","type":"quantitative","scale":{"domain":[-0.01,0.3],"nice":false,"zero":false},
"axis":{"orient":"right","offset":35,"title":"Qm /(g/s)","values":[-0.01,0,0.01,0.02,0.03,0.04,0.05,0.06,0.07,0.08,0.09,0.1,0.11,0.12,0.13,0.14,0.15,0.16,0.17,0.18,0.19,0.2,0.21,0.22,0.23,0.24,0.25,0.26,0.27,0.28,0.29,0.3],"format":"~g",
"labelExpr":"abs(datum.value*20-round(datum.value*20))<0.001 ? datum.label : ''",
"tickSize":-7,
"tickWidth":{"condition":{"test":"abs(datum.value*20-round(datum.value*20))<0.001","value":2.2},"value":1.4},
"labelPadding":15,"titleAngle":270,"titleX":50,"titleY":213.5,"titleAlign":"center","titleBaseline":"middle"}}},
"layer":[
{"data":{"name":"a_lines"},"transform":[{"filter":"datum.series==='Qm1'"}],"mark":{"type":"line","color":"#E00000","strokeWidth":1.8,"strokeDash":[10,6]}},
{"data":{"name":"a_lines"},"transform":[{"filter":"datum.series==='Qm2'"}],"mark":{"type":"line","color":"#3333FF","strokeWidth":1.8,"strokeDash":[9,6]}},
{"data":{"name":"a_marks"},"transform":[{"filter":"datum.series==='Qm1'"}],"mark":{"type":"point","shape":"square","filled":false,"color":"black","strokeWidth":1,"size":55,"opacity":1}},
{"data":{"name":"a_marks"},"transform":[{"filter":"datum.series==='Qm2'"}],"mark":{"type":"point","shape":"diamond","filled":false,"color":"black","strokeWidth":1,"size":80,"opacity":1}}
]},
{"data":{"values":[]},"mark":{"type":"point","filled":false,"opacity":1,"size":400},
"encoding":{
"color":{"field":"series","type":"nominal","scale":{"domain":["GPRR1_p1","GPRR1_p2","CV1_p2","CV2_p2","Qm1","Qm2"],"range":["#000000","#00A651","#E00000","#3333FF","#E00000","#3333FF"]},
"legend":{"orient":"none","legendX":54,"legendY":229,"title":null,"symbolSize":400,"symbolStrokeWidth":1.5,"labelOffset":47,"labelFont":"Liberation Sans","labelFontSize":18,"labelColor":"black","rowPadding":1.8,"padding":0,"symbolOpacity":1}},
"shape":{"field":"series","type":"nominal","scale":{"domain":["GPRR1_p1","GPRR1_p2","CV1_p2","CV2_p2","Qm1","Qm2"],"range":[
"M-4.25,0L-3.25,0M-2.9,0L-2.7,0M-2.35,0L-2.15,0M-1.8,0L-0.8,0M-0.45,0L-0.25,0M0.1,0L0.3,0M0.65,0L1.65,0M2,0L2.2,0M2.55,0L2.75,0M3.1,0L4.1,0",
"M-4.25,0L-2.85,0M-2.15,0L-0.75,0M-0.35,0L0.35,0M0.75,0L2.15,0M2.85,0L4.25,0",
"M-4.25,0L4.25,0",
"M-4.25,0L-3.05,0M-2.7,0L-2.5,0M-2.15,0L-0.95,0M-0.6,0L-0.4,0M-0.05,0L1.15,0M1.5,0L1.7,0M2.05,0L3.25,0M3.6,0L3.8,0M4.15,0L4.25,0",
"M-4.25,0L-2.95,0M-2.25,0L-0.95,0M-0.35,0L0.35,0M0.95,0L2.25,0M2.95,0L4.25,0",
"M-4.25,0L-3.15,0M-2.45,0L-1.35,0M-0.65,0L0.65,0M1.35,0L2.45,0M3.15,0L4.25,0"]},
"legend":{"orient":"none","legendX":54,"legendY":229,"title":null,"symbolSize":400,"symbolStrokeWidth":1.5,"labelOffset":47,"labelFont":"Liberation Sans","labelFontSize":18,"labelColor":"black","rowPadding":1.8,"padding":0,"symbolOpacity":1}}}},
{"data":{"values":[]},"mark":{"type":"point","filled":false,"opacity":1,"size":400,"color":"black","strokeWidth":1},
"encoding":{
"shape":{"field":"series","type":"nominal","scale":{"domain":["GPRR1_p1","GPRR1_p2","CV1_p2","CV2_p2","Qm1","Qm2"],"range":[
"M0,-0.42L0.4,0.28L-0.4,0.28Z","M0,0.42L0.4,-0.28L-0.4,-0.28Z","M-0.42,0L0.28,-0.4L0.28,0.4Z","M0.42,0L-0.28,-0.4L-0.28,0.4Z","M-0.32,-0.32L0.32,-0.32L0.32,0.32L-0.32,0.32Z","M0,-0.42L0.42,0L0,0.42L-0.42,0Z"]},
"legend":{"orient":"none","legendX":54,"legendY":229,"title":null,"symbolSize":400,"symbolStrokeWidth":1,"labelOffset":47,"labelFont":"Liberation Sans","labelFontSize":18,"labelOpacity":0,"rowPadding":1.8,"padding":0,"symbolOpacity":1}}}}
],
"resolve":{"scale":{"y":"independent","shape":"independent","color":"independent"}}
},
{
"width":467,"height":427,
"title":{"text":"(b) The startup stage of system","orient":"bottom","anchor":"middle","frame":"group","font":"Liberation Serif","fontSize":22,"fontWeight":"normal","color":"black","dx":11,"offset":6},
"encoding":{"x":{"field":"t","type":"quantitative","scale":{"domain":[8,20],"nice":false,"zero":false},
"axis":{"title":"t / s","values":[8,8.2,8.4,8.6,8.8,9,9.2,9.4,9.6,9.8,10,10.2,10.4,10.6,10.8,11,11.2,11.4,11.6,11.8,12,12.2,12.4,12.6,12.8,13,13.2,13.4,13.6,13.8,14,14.2,14.4,14.6,14.8,15,15.2,15.4,15.6,15.8,16,16.2,16.4,16.6,16.8,17,17.2,17.4,17.6,17.8,18,18.2,18.4,18.6,18.8,19,19.2,19.4,19.6,19.8,20],"format":"~g",
"labelExpr":"abs(datum.value-round(datum.value))<0.001 ? datum.label : ''",
"tickSize":-7,
"tickWidth":{"condition":{"test":"abs(datum.value-round(datum.value))<0.001","value":2.2},"value":1.4},
"labelPadding":11,"titlePadding":1}}},
"layer":[
{"encoding":{"y":{"field":"v","type":"quantitative","scale":{"domain":[1.49,1.7],"nice":false,"zero":false},
"axis":{"orient":"left","title":"p2 / MPa","values":[1.5,1.51,1.52,1.53,1.54,1.55,1.56,1.57,1.58,1.59,1.6,1.61,1.62,1.63,1.64,1.65,1.66,1.67,1.68,1.69,1.7],"format":"~g",
"labelExpr":"abs(datum.value*20-round(datum.value*20))<0.001 ? datum.label : ''",
"tickSize":-7,
"tickWidth":{"condition":{"test":"abs(datum.value*20-round(datum.value*20))<0.001","value":2.2},"value":1.4},
"labelPadding":18,"labelFontSize":17,"titleAngle":270,"titleX":-37,"titleY":213.5,"titleAlign":"center","titleBaseline":"middle"}}},
"layer":[
{"data":{"name":"b_lines"},"transform":[{"filter":"datum.series==='GPRR1_p2'"}],"mark":{"type":"line","color":"#00A651","strokeWidth":1.7,"strokeDash":[16,6]}},
{"data":{"name":"b_lines"},"transform":[{"filter":"datum.series==='CV1_p2'"}],"mark":{"type":"line","color":"#E00000","strokeWidth":1.9}},
{"data":{"name":"b_lines"},"transform":[{"filter":"datum.series==='CV2_p2'"}],"mark":{"type":"line","color":"#3333FF","strokeWidth":1.8,"strokeDash":[10,3,2,3]}},
{"data":{"name":"b_marks"},"transform":[{"filter":"datum.series==='GPRR1_p2'"}],"mark":{"type":"point","shape":"triangle-down","filled":false,"color":"black","strokeWidth":1,"size":70,"opacity":1}},
{"data":{"name":"b_marks"},"transform":[{"filter":"datum.series==='CV1_p2'"}],"mark":{"type":"point","shape":"triangle-left","filled":false,"color":"black","strokeWidth":1,"size":70,"opacity":1}},
{"data":{"name":"b_marks"},"transform":[{"filter":"datum.series==='CV2_p2'"}],"mark":{"type":"point","shape":"triangle-right","filled":false,"color":"black","strokeWidth":1,"size":70,"opacity":1}}
]},
{"encoding":{"y":{"field":"v","type":"quantitative","scale":{"domain":[8.8,9.1],"nice":false,"zero":false},
"axis":{"orient":"right","title":"p1 / MPa","values":[8.8,8.82,8.84,8.86,8.88,8.9,8.92,8.94,8.96,8.98,9,9.02,9.04,9.06,9.08,9.1],"format":"~g",
"labelExpr":"abs(datum.value*10-round(datum.value*10))<0.001 ? datum.label : ''",
"tickSize":-7,
"tickWidth":{"condition":{"test":"abs(datum.value*10-round(datum.value*10))<0.001","value":2.2},"value":1.4},
"labelPadding":12,"titleAngle":270,"titleX":20,"titleY":213.5,"titleAlign":"center","titleBaseline":"middle"}}},
"layer":[
{"data":{"name":"b_lines"},"transform":[{"filter":"datum.series==='GPRR1_p1'"}],"mark":{"type":"line","color":"black","strokeWidth":1.6,"strokeDash":[12,2,2,2,2,2]}},
{"data":{"name":"b_marks"},"transform":[{"filter":"datum.series==='GPRR1_p1'"}],"mark":{"type":"point","shape":"triangle-up","filled":false,"color":"black","strokeWidth":1,"size":70,"opacity":1}}
]},
{"encoding":{"y":{"field":"v","type":"quantitative","scale":{"domain":[-0.01,0.3],"nice":false,"zero":false},
"axis":{"orient":"right","offset":38,"title":"Qm /(g/s)","values":[-0.01,0,0.01,0.02,0.03,0.04,0.05,0.06,0.07,0.08,0.09,0.1,0.11,0.12,0.13,0.14,0.15,0.16,0.17,0.18,0.19,0.2,0.21,0.22,0.23,0.24,0.25,0.26,0.27,0.28,0.29,0.3],"format":"~g",
"labelExpr":"abs(datum.value*20-round(datum.value*20))<0.001 ? datum.label : ''",
"tickSize":-7,
"tickWidth":{"condition":{"test":"abs(datum.value*20-round(datum.value*20))<0.001","value":2.2},"value":1.4},
"labelPadding":14,"titleAngle":270,"titleX":48,"titleY":213.5,"titleAlign":"center","titleBaseline":"middle"}}},
"layer":[
{"data":{"name":"b_lines"},"transform":[{"filter":"datum.series==='Qm1'"}],"mark":{"type":"line","color":"#E00000","strokeWidth":1.8,"strokeDash":[10,6]}},
{"data":{"name":"b_lines"},"transform":[{"filter":"datum.series==='Qm2'"}],"mark":{"type":"line","color":"#3333FF","strokeWidth":1.8,"strokeDash":[10,6]}},
{"data":{"name":"b_marks"},"transform":[{"filter":"datum.series==='Qm1'"}],"mark":{"type":"point","shape":"square","filled":false,"color":"black","strokeWidth":1,"size":50,"opacity":1}},
{"data":{"name":"b_marks"},"transform":[{"filter":"datum.series==='Qm2'"}],"mark":{"type":"point","shape":"diamond","filled":false,"color":"black","strokeWidth":1,"size":70,"opacity":1}}
]},
{"data":{"values":[]},"mark":{"type":"point","filled":false,"opacity":1,"size":400},
"encoding":{
"color":{"field":"series","type":"nominal","scale":{"domain":["GPRR1_p1","GPRR1_p2","CV1_p2","CV2_p2","Qm1","Qm2"],"range":["#000000","#00A651","#E00000","#3333FF","#E00000","#3333FF"]},
"legend":{"orient":"none","legendX":99,"legendY":122,"title":null,"symbolSize":400,"symbolStrokeWidth":1.5,"labelOffset":48,"labelFont":"Liberation Sans","labelFontSize":18,"labelColor":"black","rowPadding":3.3,"padding":0,"symbolOpacity":1}},
"shape":{"field":"series","type":"nominal","scale":{"domain":["GPRR1_p1","GPRR1_p2","CV1_p2","CV2_p2","Qm1","Qm2"],"range":[
"M-4.25,0L-3.25,0M-2.9,0L-2.7,0M-2.35,0L-2.15,0M-1.8,0L-0.8,0M-0.45,0L-0.25,0M0.1,0L0.3,0M0.65,0L1.65,0M2,0L2.2,0M2.55,0L2.75,0M3.1,0L4.1,0",
"M-4.25,0L-2.85,0M-2.15,0L-0.75,0M-0.35,0L0.35,0M0.75,0L2.15,0M2.85,0L4.25,0",
"M-4.25,0L4.25,0",
"M-4.25,0L-3.05,0M-2.7,0L-2.5,0M-2.15,0L-0.95,0M-0.6,0L-0.4,0M-0.05,0L1.15,0M1.5,0L1.7,0M2.05,0L3.25,0M3.6,0L3.8,0M4.15,0L4.25,0",
"M-4.25,0L-2.95,0M-2.25,0L-0.95,0M-0.35,0L0.35,0M0.95,0L2.25,0M2.95,0L4.25,0",
"M-4.25,0L-3.15,0M-2.45,0L-1.35,0M-0.65,0L0.65,0M1.35,0L2.45,0M3.15,0L4.25,0"]},
"legend":{"orient":"none","legendX":99,"legendY":122,"title":null,"symbolSize":400,"symbolStrokeWidth":1.5,"labelOffset":48,"labelFont":"Liberation Sans","labelFontSize":18,"labelColor":"black","rowPadding":3.3,"padding":0,"symbolOpacity":1}}}},
{"data":{"values":[]},"mark":{"type":"point","filled":false,"opacity":1,"size":400,"color":"black","strokeWidth":1},
"encoding":{
"shape":{"field":"series","type":"nominal","scale":{"domain":["GPRR1_p1","GPRR1_p2","CV1_p2","CV2_p2","Qm1","Qm2"],"range":[
"M0,-0.42L0.4,0.28L-0.4,0.28Z","M0,0.42L0.4,-0.28L-0.4,-0.28Z","M-0.42,0L0.28,-0.4L0.28,0.4Z","M0.42,0L-0.28,-0.4L-0.28,0.4Z","M-0.32,-0.32L0.32,-0.32L0.32,0.32L-0.32,0.32Z","M0,-0.42L0.42,0L0,0.42L-0.42,0Z"]},
"legend":{"orient":"none","legendX":99,"legendY":122,"title":null,"symbolSize":400,"symbolStrokeWidth":1,"labelOffset":48,"labelFont":"Liberation Sans","labelFontSize":18,"labelOpacity":0,"rowPadding":3.3,"padding":0,"symbolOpacity":1}}}}
],
"resolve":{"scale":{"y":"independent","shape":"independent","color":"independent"}}
}
]
}
